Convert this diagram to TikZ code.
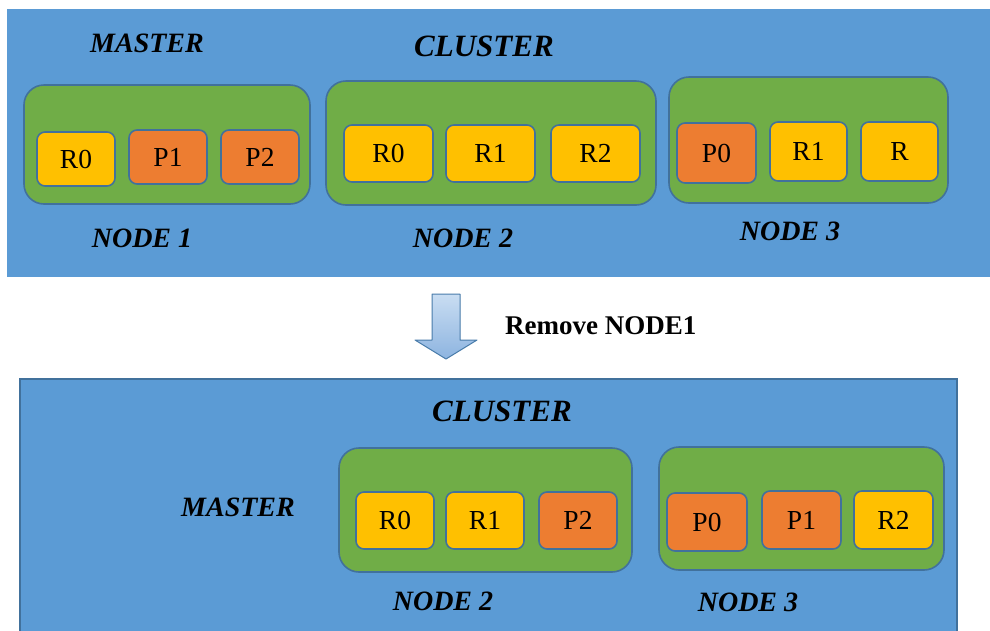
\documentclass[tikz,border=0pt]{standalone}
\usepackage{fontspec}
\setmainfont{Liberation Serif}
\definecolor{clusterblue}{HTML}{5B9BD5}
\definecolor{nodegreen}{HTML}{70AD47}
\definecolor{shardyellow}{HTML}{FFC000}
\definecolor{shardorange}{HTML}{ED7D31}
\definecolor{edgeblue}{HTML}{41719C}
\definecolor{arrowtop}{HTML}{C9DDF2}
\definecolor{arrowbot}{HTML}{8DB4E0}

\begin{document}
\begin{tikzpicture}[x=1pt,y=-1pt]
	\tikzstyle{every node}+=[inner sep=0pt]
	\tikzstyle{title}=[font=\fontsize{28}{30}\selectfont\bfseries\itshape]
	\tikzstyle{machine}=[draw=edgeblue,line width=1.6pt,fill=nodegreen,rounded corners=20pt]
	\tikzstyle{replica}=[draw=edgeblue,line width=1.6pt,fill=shardyellow,rounded corners=8pt,font=\fontsize{27.5}{30}\selectfont]
	\tikzstyle{primary}=[replica,fill=shardorange]
	\useasboundingbox (0,0) rectangle (990,630);
	\fill [white] (0,0) rectangle (990,630);
	% cluster before
	\fill [clusterblue] (7,9) rectangle (990,277);
	\node [title] (master1) at (147,43) {MASTER};
	\node [title,font=\fontsize{31}{34}\selectfont\bfseries\itshape] (cluster1) at (484,46) {CLUSTER};
	\node [machine,minimum width=286pt,minimum height=119pt] (n1) at (167,144.5) {};
	\node [replica,minimum width=78pt,minimum height=54pt] (n1r0) at (76,159) {R0};
	\node [primary,minimum width=78pt,minimum height=54pt] (n1p1) at (168,157) {P1};
	\node [primary,minimum width=78pt,minimum height=54pt] (n1p2) at (260,157) {P2};
	\node [title] (n1label) at (142,238) {NODE 1};
	\node [machine,minimum width=330pt,minimum height=124pt] (n2) at (491,143) {};
	\node [replica,minimum width=89pt,minimum height=57pt] (n2r0) at (388.5,153.5) {R0};
	\node [replica,minimum width=89pt,minimum height=57pt] (n2r1) at (490.5,153.5) {R1};
	\node [replica,minimum width=89pt,minimum height=57pt] (n2r2) at (595.5,153.5) {R2};
	\node [title] (n2label) at (463,238) {NODE 2};
	\node [machine,minimum width=279pt,minimum height=126pt] (n3) at (808.5,140) {};
	\node [primary,minimum width=79pt,minimum height=60pt] (n3p0) at (716.5,153) {P0};
	\node [replica,minimum width=77pt,minimum height=59pt] (n3r1) at (808.5,151.5) {R1};
	\node [replica,minimum width=77pt,minimum height=59pt] (n3r) at (899.5,151.5) {R};
	\node [title] (n3label) at (790,231) {NODE 3};
	% removal step
	\shade [top color=arrowtop,bottom color=arrowbot,draw=clusterblue!80!black,line width=1pt,line join=round]
		(432,294) -- (460,294) -- (460,340) -- (477,340) -- (446,359) -- (415,340) -- (432,340) -- cycle;
	\node [anchor=west,font=\fontsize{27}{30}\selectfont\bfseries] (step) at (505,326) {Remove NODE1};
	% cluster after
	\draw [fill=clusterblue,draw=edgeblue,line width=1.6pt] (20,379) rectangle (957,645);
	\node [title,font=\fontsize{31}{34}\selectfont\bfseries\itshape] (cluster2) at (502,411) {CLUSTER};
	\node [title] (master2) at (238,507) {MASTER};
	\node [machine,minimum width=293pt,minimum height=124pt] (m2) at (485.5,510) {};
	\node [replica,minimum width=78pt,minimum height=57pt] (m2r0) at (395,520.5) {R0};
	\node [replica,minimum width=78pt,minimum height=57pt] (m2r1) at (485,520.5) {R1};
	\node [primary,minimum width=78pt,minimum height=57pt] (m2p2) at (578,520.5) {P2};
	\node [title] (m2label) at (443,601) {NODE 2};
	\node [machine,minimum width=285pt,minimum height=123pt] (m3) at (801.5,508.5) {};
	\node [primary,minimum width=80pt,minimum height=58pt] (m3p0) at (707,522) {P0};
	\node [primary,minimum width=79pt,minimum height=58pt] (m3p1) at (801.5,520) {P1};
	\node [replica,minimum width=79pt,minimum height=58pt] (m3r2) at (893.5,520) {R2};
	\node [title] (m3label) at (748,602) {NODE 3};
\end{tikzpicture}
\end{document}
